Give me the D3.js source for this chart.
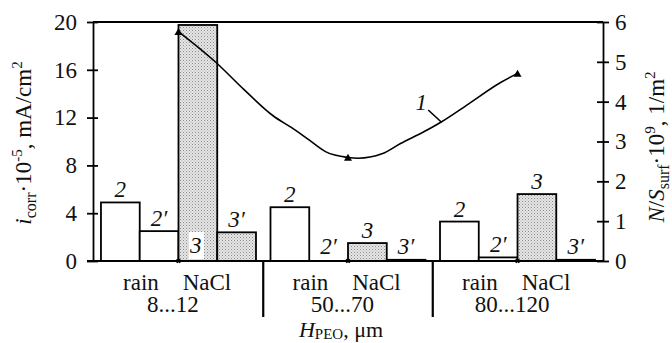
<!DOCTYPE html>
<head>
<meta charset="utf-8">
<title>corrosion current vs PEO thickness</title>
<script src="https://cdn.jsdelivr.net/npm/d3@7"></script>
<style>
  body { margin: 0; background: #fff; }
  svg { display: block; font-family: "Liberation Serif", "Times New Roman", serif; }
  text { fill: #111; }
</style>
</head>
<body>
<svg width="672" height="343"></svg>
<script>
// PEO thickness groups
var groups = ["8...12", "50...70", "80...120"]
var barKeys = ["2", "2\u2032", "3", "3\u2032"]

// i_corr * 1e-5, mA/cm2  (2, 2' = rain ; 3, 3' = NaCl)
var rain2 = [4.9, 4.5, 3.3]
var rain2p = [2.5, 0, 0.3]
var nacl3 = [19.75, 1.5, 5.6]
var nacl3p = [2.4, 0.1, 0.1]

// curve 1 : N/S_surf * 1e9, 1/m2 ; position 0..2 = group index
var curvePos = [0, 0.22, 0.39, 0.56, 0.67, 0.77, 0.87, 1.0, 1.06, 1.2, 1.31, 1.45, 1.55, 1.71, 1.9, 2.0]
var curveVal = [5.76, 4.99, 4.29, 3.64, 3.34, 3.04, 2.74, 2.6, 2.58, 2.69, 2.95, 3.25, 3.49, 3.94, 4.48, 4.71]
var markerPos = [0, 1, 2]

var leftTicks = [0, 4, 8, 12, 16, 20]
var rightTicks = [0, 1, 2, 3, 4, 5, 6]

var svg = d3.select("svg")
var x0 = 93, x1 = 603, yTop = 22, yBot = 261
var fs = 23

var xg = d3.scaleBand().domain(groups).range([x0, x1]).paddingInner(0.0855).paddingOuter(0.047)
var xb = d3.scaleBand().domain(barKeys).range([0, xg.bandwidth()])
var yL = d3.scaleLinear().domain([0, 20]).range([yBot, yTop])
var yR = d3.scaleLinear().domain([0, 6]).range([yBot, yTop])

var xc = d3.scaleLinear().domain([0, 2])
  .range([xg(groups[0]) + xb(barKeys[2]), xg(groups[2]) + xb(barKeys[2])])

// stipple pattern
var pat = svg.append("defs").append("pattern")
  .attr("id", "dots").attr("width", 3).attr("height", 3)
  .attr("patternUnits", "userSpaceOnUse")
pat.append("rect").attr("width", 3).attr("height", 3).attr("fill", "#e6e6e6")
pat.append("rect").attr("width", 1).attr("height", 1).attr("fill", "#8a8a8a")
pat.append("rect").attr("x", 1.5).attr("y", 1.5).attr("width", 1).attr("height", 1).attr("fill", "#a8a8a8")

var series = [rain2, rain2p, nacl3, nacl3p]
var bars = []
groups.forEach(function (g, gi) {
  barKeys.forEach(function (k, ki) {
    bars.push({ g: g, k: k, v: series[ki][gi], nacl: ki > 1 })
  })
})

svg.selectAll("rect.bar").data(bars).enter().append("rect")
  .attr("class", "bar")
  .attr("x", function (d) { return xg(d.g) + xb(d.k) })
  .attr("y", function (d) { return yL(d.v) })
  .attr("width", xb.bandwidth())
  .attr("height", function (d) { return yBot - yL(d.v) })
  .attr("fill", function (d) { return d.nacl ? "url(#dots)" : "#fff" })
  .attr("stroke", function (d) { return d.v > 0 ? "#000" : "none" })
  .attr("stroke-width", 1.8)

// bar labels
bars.forEach(function (d) {
  var cx = xg(d.g) + xb(d.k) + xb.bandwidth() / 2
  var by = Math.min(yL(d.v) - 5, yBot - 7)
  if (by < yTop + 30) {
    // no room above: put inside, near the bottom, on white
    cx -= 2
    svg.append("rect").attr("x", cx - 7).attr("y", yBot - 29)
      .attr("width", 15).attr("height", 27).attr("fill", "#fff")
    by = yBot - 8
  }
  svg.append("text").attr("x", cx).attr("y", by)
    .attr("text-anchor", "middle").attr("font-style", "italic")
    .attr("font-size", fs).text(d.k)
})

// frame
svg.append("line").attr("x1", x0).attr("x2", x1).attr("y1", yTop).attr("y2", yTop)
  .attr("stroke", "#000").attr("stroke-width", 1.8)
svg.append("line").attr("x1", x0 - 6).attr("x2", x1).attr("y1", yBot).attr("y2", yBot)
  .attr("stroke", "#000").attr("stroke-width", 1.8)

// axes, ticks crossing the line
var gl = svg.append("g").attr("transform", "translate(" + x0 + ",0)")
  .call(d3.axisLeft(yL).tickValues(leftTicks).tickSize(6).tickSizeOuter(0).tickPadding(10))
gl.selectAll(".tick line").attr("x1", 5)
var gr = svg.append("g").attr("transform", "translate(" + x1 + ",0)")
  .call(d3.axisRight(yR).tickValues(rightTicks).tickFormat(d3.format("d"))
    .tickSize(6).tickSizeOuter(0).tickPadding(6))
gr.selectAll(".tick line").attr("x1", -6)
svg.selectAll(".domain, .tick line").attr("stroke", "#000").attr("stroke-width", 1.8)
svg.selectAll(".tick text").attr("font-size", fs).attr("font-family", "Liberation Serif").attr("fill", "#111")

// group separators
groups.slice(1).forEach(function (g) {
  var sx = xg(g) - xg.step() * xg.paddingInner() / 2
  svg.append("line").attr("x1", sx).attr("x2", sx).attr("y1", yBot).attr("y2", yBot + 56)
    .attr("stroke", "#000").attr("stroke-width", 2.2)
})

// group labels
groups.forEach(function (g) {
  var gx = xg(g)
  svg.append("text").attr("x", gx + 40).attr("y", 290).attr("text-anchor", "middle")
    .attr("font-size", fs).text("rain")
  svg.append("text").attr("x", gx + 106).attr("y", 290).attr("text-anchor", "middle")
    .attr("font-size", fs).text("NaCl")
  svg.append("text").attr("x", gx + 72).attr("y", 312).attr("text-anchor", "middle")
    .attr("font-size", fs).text(g)
})

// curve 1
var pts = curvePos.map(function (p, i) { return [xc(p), yR(curveVal[i])] })
svg.append("path").attr("d", d3.line().curve(d3.curveMonotoneX)(pts))
  .attr("fill", "none").attr("stroke", "#000").attr("stroke-width", 1.6)
markerPos.forEach(function (p) {
  var i = curvePos.indexOf(p)
  svg.append("path").attr("d", d3.symbol(d3.symbolTriangle, 28)())
    .attr("transform", "translate(" + xc(p) + "," + (yR(curveVal[i]) + 1) + ")")
  // small cross where the curve point sits on the thickness axis
  svg.append("path").attr("d", d3.symbol(d3.symbolCross, 14)())
    .attr("transform", "translate(" + xc(p) + "," + yBot + ") rotate(45)")
})

// label 1 with leader
var li = curvePos.indexOf(1.55)
var lx = xc(curvePos[li]), ly = yR(curveVal[li])
svg.append("line").attr("x1", lx).attr("y1", ly).attr("x2", lx - 13).attr("y2", ly - 12)
  .attr("stroke", "#000").attr("stroke-width", 1.6)
svg.append("text").attr("x", lx - 20).attr("y", ly - 12).attr("text-anchor", "middle")
  .attr("font-style", "italic").attr("font-size", fs).text("1")

// axis titles
var tl = svg.append("text").attr("transform", "translate(31,143) rotate(-90)")
  .attr("text-anchor", "middle").attr("font-size", fs)
tl.append("tspan").attr("font-style", "italic").text("i")
tl.append("tspan").attr("font-size", 16).attr("dy", 5).text("corr")
tl.append("tspan").attr("dy", -5).text("\u00b710")
tl.append("tspan").attr("font-size", 15).attr("dy", -9).text("-5")
tl.append("tspan").attr("dy", 9).text(", mA/cm")
tl.append("tspan").attr("font-size", 15).attr("dy", -9).text("2")

var tr = svg.append("text").attr("transform", "translate(664,147) rotate(-90)")
  .attr("text-anchor", "middle").attr("font-size", fs)
tr.append("tspan").attr("font-style", "italic").text("N")
tr.append("tspan").text("/")
tr.append("tspan").attr("font-style", "italic").text("S")
tr.append("tspan").attr("font-size", 16).attr("dy", 5).text("surf")
tr.append("tspan").attr("dy", -5).text("\u00b710")
tr.append("tspan").attr("font-size", 15).attr("dy", -9).text("9")
tr.append("tspan").attr("dy", 9).text(", 1/m")
tr.append("tspan").attr("font-size", 15).attr("dy", -9).text("2")

var tx = svg.append("text").attr("x", 341).attr("y", 337).attr("text-anchor", "middle")
  .attr("font-size", 22)
tx.append("tspan").attr("font-style", "italic").text("H")
tx.append("tspan").attr("font-size", 15).attr("dy", 2).text("PEO")
tx.append("tspan").attr("dy", -2).text(", \u03bcm")
</script>
</body>
